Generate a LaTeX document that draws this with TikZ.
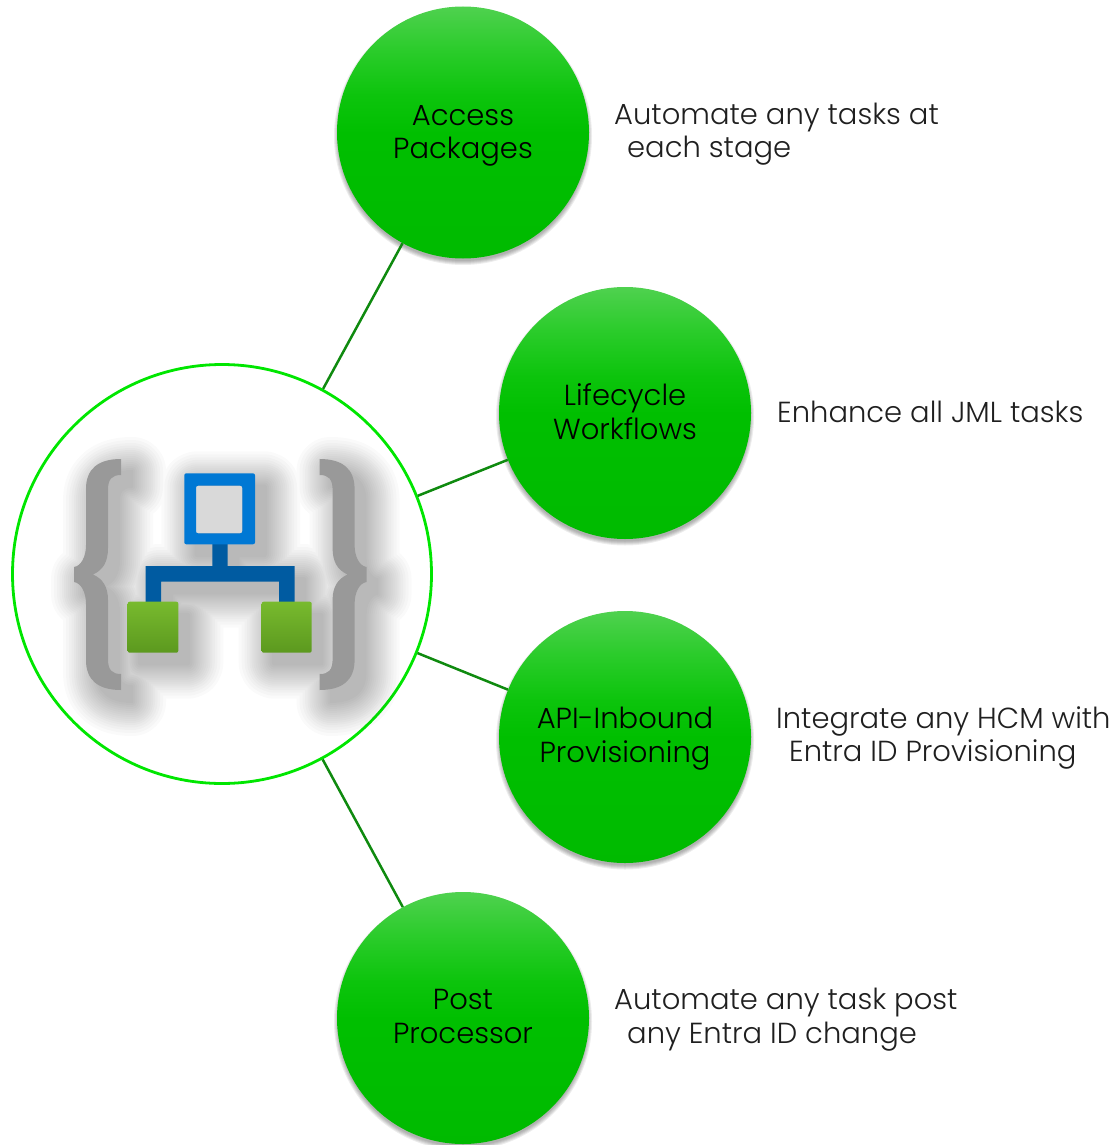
\documentclass[tikz,border=0pt]{standalone}
\usepackage{fontspec}
\setmainfont{Poppins}[UprightFont=* Light]
\definecolor{ringgreen}{HTML}{00E600}
\definecolor{linkgreen}{HTML}{0F8A0F}
\definecolor{iconblue}{HTML}{0078D4}
\definecolor{icondark}{HTML}{005BA1}
\definecolor{bracegray}{HTML}{999999}
\pgfdeclareverticalshading{ballgrad}{100bp}{
  rgb(0bp)=(0,.73,0);
  rgb(25bp)=(0,.73,0);
  rgb(50bp)=(0,.75,0);
  rgb(57.5bp)=(.05,.77,.05);
  rgb(66.5bp)=(.17,.80,.17);
  rgb(75bp)=(.31,.82,.31);
  rgb(100bp)=(.31,.82,.31)}
\pgfdeclareverticalshading{leafgrad}{100bp}{
  rgb(0bp)=(.36,.60,.12);
  rgb(25bp)=(.36,.60,.12);
  rgb(75bp)=(.47,.73,.18);
  rgb(100bp)=(.47,.73,.18)}
\newcommand{\braceshapes}{
  (121,459) -- (121,475) .. controls (112,475) and (108,479) .. (108,490)
  -- (108,548) .. controls (108,562) and (103,570) .. (93,574.5)
  .. controls (103,579) and (108,587) .. (108,600) -- (108,659)
  .. controls (108,670) and (112,674) .. (121,674) -- (121,690)
  .. controls (98,690) and (86,680) .. (86,660) -- (86,604)
  .. controls (86,592) and (81,583) .. (74,582) -- (74,567)
  .. controls (81,566) and (86,557) .. (86,545) -- (86,489)
  .. controls (86,469) and (98,459) .. (121,459) -- cycle
  (319.6,459) -- (319.6,475) .. controls (328.6,475) and (332.6,479) .. (332.6,490)
  -- (332.6,548) .. controls (332.6,562) and (337.6,570) .. (347.6,574.5)
  .. controls (337.6,579) and (332.6,587) .. (332.6,600) -- (332.6,659)
  .. controls (332.6,670) and (328.6,674) .. (319.6,674) -- (319.6,690)
  .. controls (342.6,690) and (354.6,680) .. (354.6,660) -- (354.6,604)
  .. controls (354.6,592) and (359.6,583) .. (366.6,582) -- (366.6,567)
  .. controls (359.6,566) and (354.6,557) .. (354.6,545) -- (354.6,489)
  .. controls (354.6,469) and (342.6,459) .. (319.6,459) -- cycle
}
\newcommand{\linkshapes}{
  (212.3,544) rectangle (227.7,570)
  (145.7,566) rectangle (294.7,581.7)
  (145.7,566) rectangle (161,602)
  (279,566) rectangle (294.7,602)
}
\tikzset{
  balltext/.style={align=center,text=black,font=\fontsize{29}{33.5}\selectfont},
  ballnode/.style={circle,minimum size=252pt,inner sep=0pt,shading=ballgrad},
  hubnode/.style={circle,minimum size=419pt,inner sep=0pt,draw=ringgreen,line width=2.8pt},
  linkline/.style={draw=linkgreen,line width=2.5pt},
  notetext/.style={anchor=west,align=left,inner sep=0pt,text=black!88,font=\fontsize{29}{33.5}\selectfont},
  ballshadow/.style={fill=black,opacity=.07},
  iconshadow/.style={fill=black,draw=black,line join=round}
}
\begin{document}
\begin{tikzpicture}[x=1pt,y=-1pt]
\useasboundingbox (0,0) rectangle (1115,1145);
% ball shadows
\foreach \c in {(463,132.5),(625,413),(625,737),(463,1018)}{
  \foreach \r in {129,128,127,126,125}{
    \fill[ballshadow] \c ++(0,3.5) circle (\r pt);
  }
}
\node[hubnode] (hub) at (222,574) {};
\node[ballnode] (access) at (463,132.5) {};
\node[ballnode] (life) at (625,413) {};
\node[ballnode] (api) at (625,737) {};
\node[ballnode] (post) at (463,1018) {};
\draw[linkline] (hub) -- (access);
\draw[linkline] (hub) -- (life);
\draw[linkline] (hub) -- (api);
\draw[linkline] (hub) -- (post);
\path (access.center) ++(0,3.5) node[balltext] (accesstext) {Access\\Packages};
\path (life.center) ++(0,-1.5) node[balltext] (lifetext) {Lifecycle\\Workflows};
\path (api.center) ++(0,1.5) node[balltext] (apitext) {API-Inbound\\Provisioning};
\path (post.center) ++(0,-1.5) node[balltext] (posttext) {Post\\Processor};
% icon shadow
\begin{scope}[shift={(11,12)}]
\foreach \w in {68,62,56,51,46,42,38,34,30,26,22,18,14,10,6,2}{
  \begin{scope}[transparency group,opacity=.019]
  \path[iconshadow,line width=\w pt] \braceshapes;
  \path[iconshadow,line width=\w pt,rounded corners=2pt]
    (184.3,473.3) rectangle (255,544.3)
    \linkshapes
    (127.7,601.7) rectangle (178.3,652.7)
    (261.7,601.7) rectangle (311.7,652.7);
  \end{scope}
}
\end{scope}
% icon
\fill[bracegray] \braceshapes;
\fill[icondark] \linkshapes;
\fill[black!15] (196,485.7) rectangle (242.3,533.3);
\fill[iconblue,even odd rule,rounded corners=2pt]
  (184.3,473.3) rectangle (255,544.3)
  (196,485.7) rectangle (242.3,533.3);
\shade[shading=leafgrad,rounded corners=2pt] (127.7,601.7) rectangle (178.3,652.7);
\shade[shading=leafgrad,rounded corners=2pt] (261.7,601.7) rectangle (311.7,652.7);
% notes
\node[notetext] (n1) at (614,134) {Automate any tasks at\\\hspace*{13pt}each stage};
\node[notetext] (n2) at (777,411.5) {Enhance all JML tasks};
\node[notetext] (n3) at (776,738) {Integrate any HCM with\\\hspace*{13pt}Entra ID Provisioning};
\node[notetext] (n4) at (614,1019.5) {Automate any task post\\\hspace*{13pt}any Entra ID change};
\end{tikzpicture}
\end{document}
